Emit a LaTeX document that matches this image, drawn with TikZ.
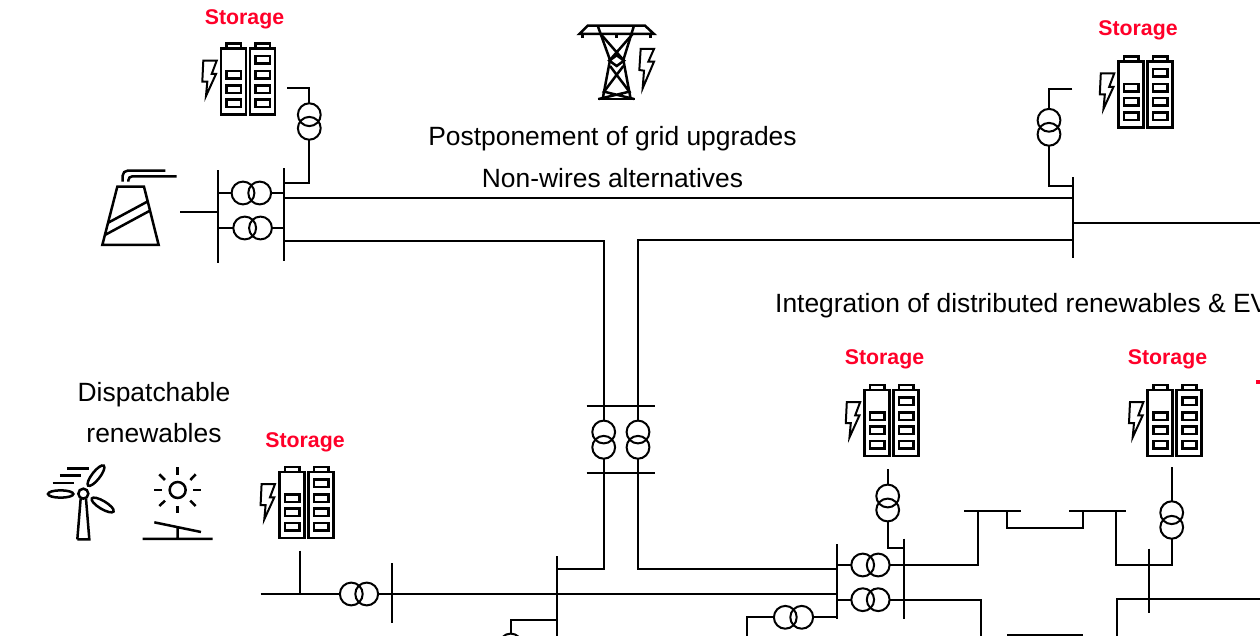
\documentclass[tikz,border=0pt]{standalone}
\usepackage{fontspec}
\setmainfont{Liberation Sans}
\definecolor{storagered}{RGB}{255,0,41}
\tikzset{
  wire/.style={line width=1.9pt,black,line cap=butt,line join=miter},
  icon/.style={line width=2.5pt,black,line join=miter},
  xfmr/.style={circle,draw=black,line width=2pt,minimum size=22.8pt,inner sep=0pt,outer sep=0pt},
  caption/.style={font=\fontsize{26.4}{26.4}\selectfont,inner sep=0pt,anchor=center},
  storagelabel/.style={font=\fontsize{21.3}{21.3}\selectfont\bfseries,text=storagered,inner sep=0pt,anchor=center}
}
\newcommand{\batteryicon}[2]{%
\begin{scope}[shift={(#1,#2)},icon]
  \draw (0,0) rectangle (25,66);
  \draw (29,0) rectangle (54,66);
  \draw (5.7,0) -- (5.7,-5.2) -- (20,-5.2) -- (20,0);
  \draw (34.7,0) -- (34.7,-5.2) -- (49,-5.2) -- (49,0);
  \foreach \yy in {22.5,36.7,51}{
    \draw (5.7,\yy) rectangle (20,\yy+7.4);
    \draw (34.7,\yy) rectangle (49,\yy+7.4);
  }
  \draw (34.7,7.5) rectangle (49,15);
  \draw[line width=2pt] (-17.7,12) -- (-4.3,12) -- (-9.3,25.3) -- (-5,25.3) -- (-15,47.3) -- (-13.7,33) -- (-18.7,33) -- cycle;
\end{scope}}
\begin{document}
\begin{tikzpicture}[x=1pt,y=-1pt]
\useasboundingbox (0,0) rectangle (1260,636);
\clip (0,0) rectangle (1260,636);

% texts
\node[storagelabel] (lblA) at (244.5,19.5) {Storage};
\node[storagelabel] (lblB) at (1138,30.5) {Storage};
\node[storagelabel] (lblC) at (884.5,359.5) {Storage};
\node[storagelabel] (lblD) at (1167.5,359.5) {Storage};
\node[storagelabel] (lblE) at (305,442.5) {Storage};
\node[caption] (capPost) at (612.5,138.5) {Postponement of grid upgrades};
\node[caption] (capNon) at (612.5,178) {Non-wires alternatives};
\node[caption,anchor=west] (capInt) at (775,305.5) {Integration of distributed renewables \& EVs};
\node[caption] (capDisp) at (154,394.5) {Dispatchable};
\node[caption] (capRen) at (154,433) {renewables};

% batteries
\batteryicon{221}{48.7}
\batteryicon{1118.5}{61.5}
\batteryicon{864.5}{390}
\batteryicon{1147.7}{390}
\batteryicon{279.3}{472}

% bus end points
\coordinate (b1t) at (217.7,170.3); \coordinate (b1b) at (217.7,263);
\coordinate (b2t) at (284.3,168.3); \coordinate (b2b) at (284.3,261);
\coordinate (b3t) at (1073.3,177.3); \coordinate (b3b) at (1073.3,258.3);
\coordinate (b4t) at (557.3,556); \coordinate (b4b) at (557.3,636);
\coordinate (b5t) at (392.3,563.3); \coordinate (b5b) at (392.3,623.3);
\coordinate (b6t) at (836.7,544); \coordinate (b6b) at (836.7,619.3);
\coordinate (b7t) at (903.7,538.7); \coordinate (b7b) at (903.7,619.3);
\coordinate (b8t) at (1149,548.7); \coordinate (b8b) at (1149,613.3);
\coordinate (h1l) at (586.7,406); \coordinate (h1r) at (655,406);
\coordinate (h2l) at (586.7,473.3); \coordinate (h2r) at (655,473.3);
\coordinate (h3l) at (964.3,511.3); \coordinate (h3r) at (1021,511.3);
\coordinate (h4l) at (1069,511.3); \coordinate (h4r) at (1126.3,511.3);
\draw[wire] (b1t) -- (b1b) (b2t) -- (b2b) (b3t) -- (b3b) (b4t) -- (b4b)
  (b5t) -- (b5b) (b6t) -- (b6b) (b7t) -- (b7b) (b8t) -- (b8b)
  (h1l) -- (h1r) (h2l) -- (h2r) (h3l) -- (h3r) (h4l) -- (h4r);

% transformers
\node[xfmr] (tA1) at (309.3,114.7) {}; \node[xfmr] (tA2) at (309.3,128.3) {};
\node[xfmr] (tB1) at (1049,120.3) {}; \node[xfmr] (tB2) at (1049,134.3) {};
\node[xfmr] (tG1) at (243,193) {}; \node[xfmr] (tG2) at (259.7,193) {};
\node[xfmr] (tH1) at (244.7,228) {}; \node[xfmr] (tH2) at (260.5,228) {};
\node[xfmr] (tL1) at (603.7,432) {}; \node[xfmr] (tL2) at (603.7,447.3) {};
\node[xfmr] (tR1) at (638,432) {}; \node[xfmr] (tR2) at (638,447.3) {};
\node[xfmr] (tE1) at (351.3,594) {}; \node[xfmr] (tE2) at (366.7,594) {};
\node[xfmr] (tS) at (510.7,645) {};
\node[xfmr] (tU1) at (862.7,565) {}; \node[xfmr] (tU2) at (878.2,565) {};
\node[xfmr] (tV1) at (862.7,599.7) {}; \node[xfmr] (tV2) at (878.2,599.7) {};
\node[xfmr] (tW1) at (785.3,617.3) {}; \node[xfmr] (tW2) at (801.7,617.3) {};
\node[xfmr] (tC1) at (887.7,496) {}; \node[xfmr] (tC2) at (887.7,510) {};
\node[xfmr] (tD1) at (1171.7,512.7) {}; \node[xfmr] (tD2) at (1171.7,527.3) {};

% free ends
\coordinate (fA) at (287.3,87.7);
\coordinate (fB) at (1072.3,89);
\coordinate (fC) at (887.7,469.3);
\coordinate (fD) at (1171.7,467.3);
\coordinate (fE) at (300,550.7);
\coordinate (fEl) at (260.7,594);
\coordinate (fP) at (180,212.3);
\coordinate (rr1) at (1260,223);
\coordinate (rr2) at (1260,599.3);
\coordinate (d1) at (980.7,636);
\coordinate (d2) at (1117,636);
\coordinate (d3) at (746.7,636);
\coordinate (m1) at (1007.3,635); \coordinate (m2) at (1083.3,635);
\coordinate (k1) at (978.3,511.3);
\coordinate (k2) at (1007.3,511.3); \coordinate (k3) at (1082.7,511.3);
\coordinate (k4) at (1116,511.3);

% connectors
\draw[wire] (fA) -| (tA1.north);
\draw[wire] (tA2.south) |- (b2t |- 0,182.7);
\draw[wire] (fB) -| (tB1.north);
\draw[wire] (tB2.south) |- (b3t |- 0,185.7);
\draw[wire] (fP) -- (fP -| b1t);
\draw[wire] (b1t |- tG1.west) -- (tG1.west);
\draw[wire] (tG2.east) -- (b2t |- tG2.east);
\draw[wire] (b1t |- tH1.west) -- (tH1.west);
\draw[wire] (tH2.east) -- (b2t |- tH2.east);
\draw[wire] (b2t |- 0,198) -- (b3t |- 0,198);
\draw[wire] (b2t |- 0,241) -- (tL1 |- 0,241) -- (tL1.north);
\draw[wire] (b3t |- 0,240.3) -- (tR1 |- 0,240.3) -- (tR1.north);
\draw[wire] (tL2.south) -- (tL2 |- 0,568.7) -- (b4t |- 0,568.7);
\draw[wire] (tR2.south) -- (tR2 |- 0,568.7) -- (b6t |- 0,568.7);
\draw[wire] (fEl) -- (tE1.west);
\draw[wire] (fE) -- (fE |- fEl);
\draw[wire] (tE2.east) -- (b6t |- tE2.east);
\draw[wire] (b4t |- 0,619.7) -| (tS.north);
\draw[wire] (b3t |- rr1) -- (rr1);
\draw[wire] (b6t |- tU1.west) -- (tU1.west);
\draw[wire] (tU2.east) -| (k1);
\draw[wire] (b6t |- tV1.west) -- (tV1.west);
\draw[wire] (tV2.east) -- (d1 |- tV2.east) -- (d1);
\draw[wire] (tW2.east) -- (b6t |- tW2.east);
\draw[wire] (tW1.west) -- (d3 |- tW1.west) -- (d3);
\draw[wire] (fC) -- (tC1.north);
\draw[wire] (tC2.south) |- (b7t |- 0,548.3);
\draw[wire] (k2) -- (k2 |- 0,528.3) -- (k3 |- 0,528.3) -- (k3);
\draw[wire] (k4) -- (k4 |- 0,565.3) -| (tD2.south);
\draw[wire] (fD) -- (tD1.north);
\draw[wire] (d2) -- (d2 |- rr2) -- (rr2);
\draw[wire] (m1) -- (m2);

% red fragment at the right edge
\fill[storagered] (1255.7,380) rectangle (1260,384.4);

% thermal plant
\begin{scope}[shift={(40,0)},x=0.3333pt,y=-0.3333pt,icon]
  \draw (232,560) -- (312,560) -- (356,735) -- (187,735) -- cycle;
  \draw (205,668) -- (322,605) (195,705) -- (330,632);
  \draw[rounded corners=5pt] (248,545) -- (248,512) -- (376,512);
  \draw[rounded corners=4pt] (265,545) -- (265,529) -- (410,529);
\end{scope}

% pylon
\begin{scope}[shift={(560,10)},x=0.3333pt,y=-0.3333pt,icon]
  \draw (58,72) -- (83,47) -- (255,47) -- (282,72) -- cycle;
  \draw (67,72) -- (67,85) (170,72) -- (170,85) (272,72) -- (272,85);
  \draw (113,47) -- (150,150) -- (128,267) (222,47) -- (190,150) -- (212,267);
  \draw (113,267) -- (225,267);
  \draw (122,72) -- (192,152) (218,72) -- (148,152);
  \draw (148,152) -- (170,168) -- (192,152) -- (170,136) -- cycle;
  \draw (150,168) -- (208,245) -- (116,267) (190,168) -- (132,245) -- (222,267);
  \draw[line width=2pt] (242,117) -- (282,117) -- (265,155) -- (282,155) -- (248,235) -- (252,182) -- (238,180) -- cycle;
\end{scope}

% wind turbine
\begin{scope}[shift={(30,450)},x=0.3333pt,y=-0.3333pt,icon]
  \draw (142,268) -- (178,268) -- (168,146) (142,268) -- (152,146);
  \draw (160,131) circle[radius=5pt];
  \draw[rotate around={52:(198,77)}] (198,77) ellipse[x radius=38,y radius=12];
  \draw (92,132) ellipse[x radius=38,y radius=11];
  \draw[rotate around={-31:(218,165)}] (218,165) ellipse[x radius=38,y radius=12];
  \draw (112,56) -- (176,56) (90,77) -- (153,77) (68,99) -- (133,99);
\end{scope}

% solar panel
\begin{scope}[shift={(30,450)},x=0.3333pt,y=-0.3333pt,icon]
  \draw (443,120) circle[radius=8pt];
  \draw (443,52) -- (443,74) (443,168) -- (443,190) (373,120) -- (396,120) (490,120) -- (513,120);
  \draw (388,73) -- (405,90) (497,73) -- (481,90) (388,168) -- (405,152) (497,168) -- (481,152);
  \draw (373,217) -- (513,246) (443,232) -- (443,267) (338,267) -- (548,267);
\end{scope}
\end{tikzpicture}
\end{document}
